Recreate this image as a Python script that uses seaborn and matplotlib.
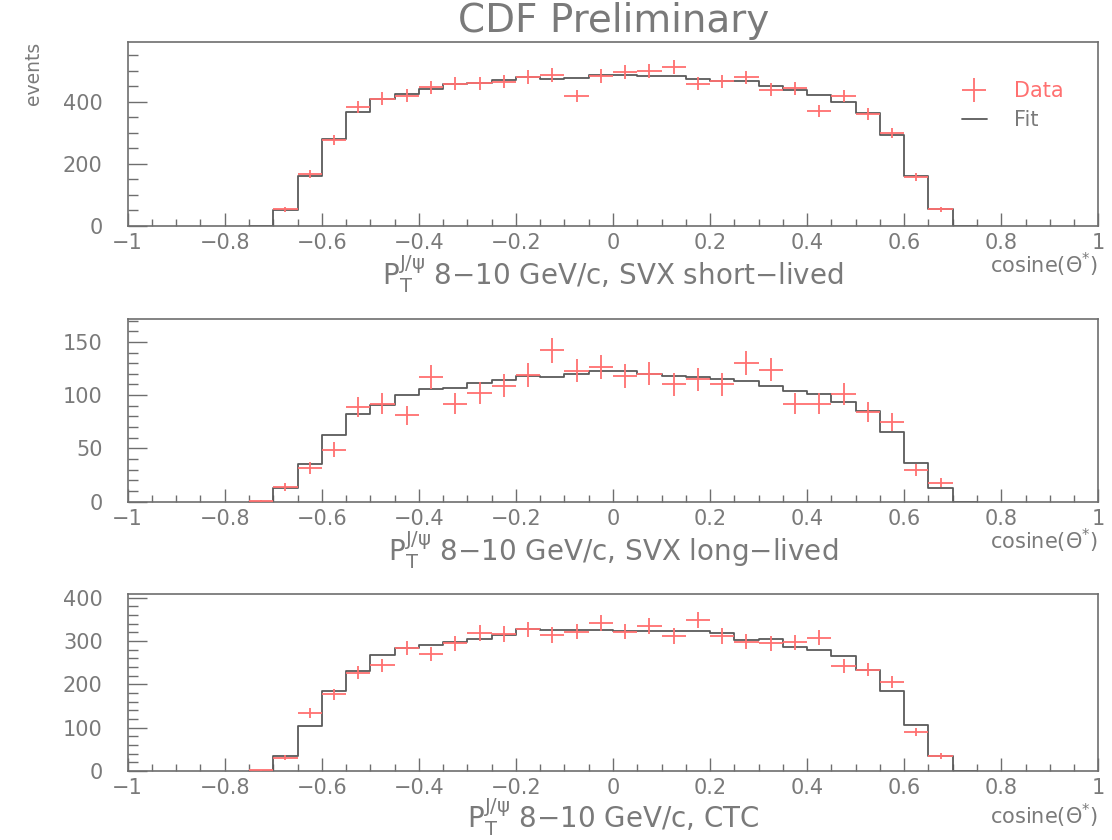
import numpy as np
import pandas as pd
import matplotlib
matplotlib.use("Agg")
import matplotlib.pyplot as plt
import seaborn as sns
from matplotlib.lines import Line2D
from matplotlib.ticker import MultipleLocator

# ---------------- data ----------------
bin_edges = [round(v, 3) for v in np.arange(-0.75, 0.7501, 0.05)]   # 30 fit bins
data_centers = np.round(np.arange(-0.725, 0.676, 0.05), 3)          # 29 data bins

fit_short = [0, 52, 162, 279, 368, 410, 426, 441, 456, 460, 471, 480, 472, 478, 486,
             486, 482, 482, 473, 468, 466, 452, 439, 423, 400, 364, 293, 161, 54, 0]
data_short = [np.nan, 53, 167, 276, 383, 410, 420, 447, 458, 460, 465, 480, 487, 419, 484,
              495, 499, 511, 458, 466, 479, 439, 443, 371, 419, 361, 299, 157, 53]

fit_long = [0, 12.5, 35.6, 62.7, 82, 91, 100, 105.5, 107, 111.7, 114, 118, 117, 120, 123,
            123, 120, 118, 117, 115, 113, 108.6, 104, 101, 94, 85.5, 65, 36, 12.5, 0]
data_long = [1, 14, 32, 49, 89, 92, 81, 117, 92, 102, 109, 119, 142, 123, 126,
             118, 120, 110, 115, 110, 130, 124, 92, 92, 101, 84, 75, 30, 18]

fit_ctc = [1, 36, 103, 186, 230, 267.5, 284, 290, 299, 304.5, 314, 328, 324.5, 326, 325,
           324, 324, 323, 323, 319, 302, 304, 287, 280, 265, 234, 184, 106, 36, 0]
data_ctc = [2, 31, 135, 177, 227, 244, 284, 271, 295, 319, 316, 327, 314, 322, 342,
            322, 334, 312, 349, 312, 299, 295, 297, 308, 243, 234, 206, 90, 35]

panel_labels = [r"$\mathregular{P_T^{J/\psi}}$ 8−10 GeV/c, SVX short−lived",
                r"$\mathregular{P_T^{J/\psi}}$ 8−10 GeV/c, SVX long−lived",
                r"$\mathregular{P_T^{J/\psi}}$ 8−10 GeV/c, CTC"]
y_tops = [593, 171.4, 409]
y_major = [200, 50, 100]
y_minor = [50, 10, 20]
title = "CDF Preliminary"
x_name = "cosine(Θ$^{*}$)"
y_name = "events"
legend_labels = ["Data", "Fit"]

# ---------------- style ----------------
sns.set_theme(style="white")
plt.rcParams['font.family'] = ['DejaVu Sans']
plt.rcParams['mathtext.fontset'] = 'dejavusans'

RED = "#ff7070"
FITC = "#5a5a5a"
GRAY = "#7a7a7a"
AXC = "#6e6e6e"

fig = plt.figure(figsize=(11.12, 8.4), dpi=100)
positions = [
    [0.1148, 0.7313, 0.8729, 0.2187],
    [0.1148, 0.4027, 0.8729, 0.2175],
    [0.1148, 0.0820, 0.8729, 0.2110],
]
label_y = [-0.152, -0.152, -0.147]
name_y = [-0.215, -0.215, -0.25]
fits = [fit_short, fit_long, fit_ctc]
datas = [data_short, data_long, data_ctc]

edges_arr = np.array(bin_edges)
fit_centers = (edges_arr[:-1] + edges_arr[1:]) / 2

for i, pos in enumerate(positions):
    ax = fig.add_axes(pos)
    df_fit = pd.DataFrame({"x": fit_centers, "w": fits[i]})
    sns.histplot(data=df_fit, x="x", weights="w", bins=bin_edges, element="step",
                 fill=False, color=FITC, linewidth=1.3, ax=ax)
    d = np.array(datas[i], dtype=float)
    ok = ~np.isnan(d)
    ax.errorbar(data_centers[ok], d[ok], xerr=0.025, yerr=np.sqrt(d[ok]),
                fmt="none", ecolor=RED, elinewidth=1.3, capsize=0, zorder=3)

    ax.set_xlim(-1, 1)
    ax.set_ylim(0, y_tops[i])
    ax.set_ylabel("")
    ax.xaxis.set_major_locator(MultipleLocator(0.2))
    ax.xaxis.set_minor_locator(MultipleLocator(0.05))
    ax.yaxis.set_major_locator(MultipleLocator(y_major[i]))
    ax.yaxis.set_minor_locator(MultipleLocator(y_minor[i]))
    ax.xaxis.set_major_formatter(matplotlib.ticker.FuncFormatter(
        lambda v, p: ("%g" % round(v, 2)).replace("-", "−")))
    ax.tick_params(axis="x", which="major", direction="in", length=9.5, width=1.0,
                   color=AXC, labelsize=15, labelcolor=GRAY, pad=5, top=False,
                   bottom=True)
    ax.tick_params(axis="x", which="minor", direction="in", length=4.8, width=1.0,
                   color=AXC, top=False, bottom=True)
    ax.tick_params(axis="y", which="major", direction="in", length=13.5, width=1.0,
                   color=AXC, labelsize=15, labelcolor=GRAY, pad=18, right=False,
                   left=True)
    ax.tick_params(axis="y", which="minor", direction="in", length=7, width=1.0,
                   color=AXC, right=False, left=True)
    for s in ax.spines.values():
        s.set_color(AXC)
        s.set_linewidth(1.2)
        s.set_visible(True)

    ax.set_xlabel(panel_labels[i], fontsize=20, color=GRAY)
    ax.xaxis.set_label_coords(0.5, label_y[i])
    ax.text(1.0, name_y[i], x_name, transform=ax.transAxes, ha="right", va="center",
            fontsize=15, color=GRAY)

    if i == 0:
        handles = [Line2D([], [], marker="+", ls="none", color=RED, markersize=17,
                          markeredgewidth=1.3),
                   Line2D([], [], color=FITC, lw=1.3)]
        ax.legend(handles, legend_labels, loc="upper left",
                  bbox_to_anchor=(0.84, 0.89), frameon=False, fontsize=15,
                  labelcolor=[RED, GRAY], handlelength=1.2, handletextpad=1.3,
                  labelspacing=0.45)

fig.text(0.5515, 0.975, title, ha="center", va="center", fontsize=28, color=GRAY)
fig.text(0.03, 0.913, y_name, ha="center", va="center", rotation=90,
         fontsize=13.5, color=GRAY)

fig.savefig("out.png", dpi=100)
